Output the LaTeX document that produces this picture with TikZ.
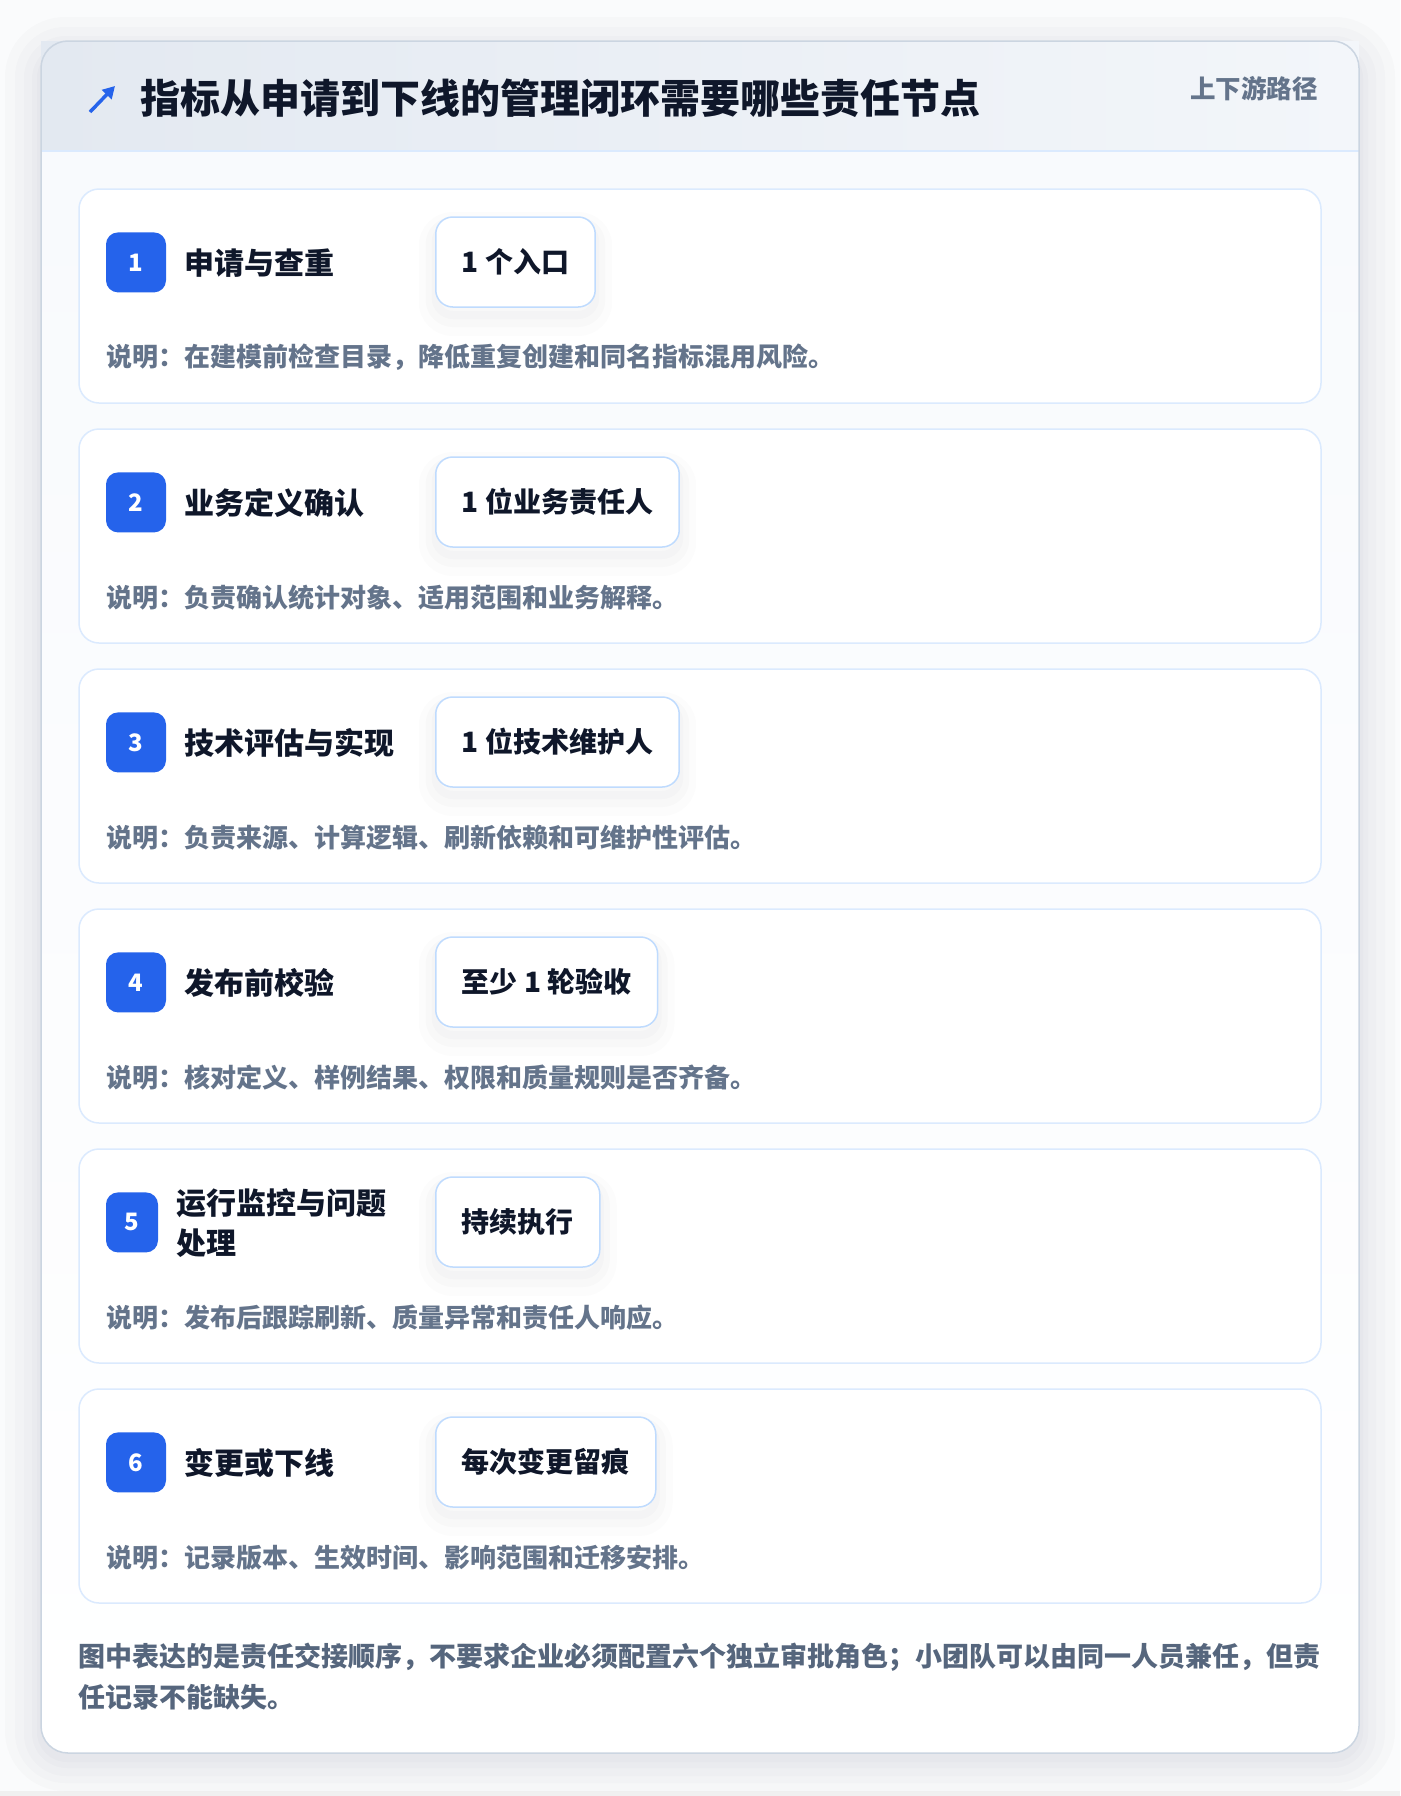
\documentclass[tikz,border=0pt]{standalone}
\usepackage{fontspec}
\setmainfont{Noto Sans CJK SC}
\usetikzlibrary{arrows.meta}

\definecolor{inkdark}{HTML}{0F172A}
\definecolor{inkgray}{HTML}{64748B}
\definecolor{footgray}{HTML}{56667D}
\definecolor{badgeblue}{HTML}{2563EB}
\definecolor{cardline}{HTML}{DBEAFE}
\definecolor{tagline}{HTML}{BFDBFE}
\definecolor{frameline}{HTML}{CBD5E1}
\definecolor{headleft}{HTML}{E3E9F1}
\definecolor{headright}{HTML}{F3F6FA}
\definecolor{pagebg}{HTML}{FAFBFC}
\definecolor{bodytop}{HTML}{F8FAFD}
\definecolor{shadowink}{HTML}{1E293B}

\tikzset{
  stepcard/.style={draw=cardline, line width=1.5pt, fill=white, rounded corners=20pt},
  badge/.style={fill=badgeblue, rounded corners=12pt, minimum width=60pt, minimum height=60pt,
    inner sep=0pt, text=white, font=\fontsize{24}{24}\selectfont\bfseries},
  steptitle/.style={anchor=west, inner sep=0pt, text=inkdark, align=left,
    font=\fontsize{30}{40}\selectfont\bfseries},
  tagbox/.style={anchor=west, draw=tagline, line width=1.5pt, fill=white, rounded corners=17pt,
    minimum height=90pt, inner xsep=26pt, text=inkdark, font=\fontsize{28}{28}\selectfont\bfseries,
    preaction={draw=shadowink, draw opacity=0.012, line width=34pt, transform canvas={yshift=-12pt}},
    preaction={draw=shadowink, draw opacity=0.014, line width=20pt, transform canvas={yshift=-10pt}},
    preaction={draw=shadowink, draw opacity=0.016, line width=8pt, transform canvas={yshift=-8pt}}},
  stepnote/.style={anchor=west, inner sep=0pt, text=inkgray, font=\fontsize{26}{26}\selectfont\bfseries},
  headtitle/.style={anchor=west, inner sep=0pt, text=inkdark, font=\fontsize{40}{40}\selectfont\bfseries},
  headnote/.style={anchor=east, inner sep=0pt, text=inkgray, font=\fontsize{25.5}{25.5}\selectfont\bfseries},
  arrowicon/.style={badgeblue, line width=3.5pt, -{Triangle[length=12pt,width=13pt]}},
  footnote/.style={anchor=base west, inner sep=0pt, text=footgray, align=left,
    font=\fontsize{27}{41.5}\selectfont\bfseries},
  frameshadow/.style={fill=shadowink, fill opacity=0.014},
}

\begin{document}
\begin{tikzpicture}[x=1pt, y=-1pt]
    \useasboundingbox (0,0) rectangle (1400,1796);
    \fill [pagebg] (0,0) rectangle (1400,1796);
    \fill [black!6] (0,1791) rectangle (1400,1796);

    % soft shadow under the frame
    \fill [frameshadow, rounded corners=60pt] (5,17) rectangle (1395,1791);
    \fill [frameshadow, rounded corners=50pt] (15,27) rectangle (1385,1783);
    \fill [frameshadow, rounded corners=42pt] (24,36) rectangle (1376,1776);
    \fill [frameshadow, rounded corners=35pt] (32,44) rectangle (1368,1768);
    \fill [frameshadow, rounded corners=30pt] (37,48) rectangle (1363,1762);

    % outer frame and header
    \fill [white, rounded corners=27pt] (41,41) rectangle (1359,1753);
    \begin{scope}
      \clip [rounded corners=27pt] (41,41) rectangle (1359,1753);
      \shade [top color=bodytop, bottom color=white] (41,151) rectangle (1359,1753);
    \end{scope}
    \shade [left color=headleft, right color=headright] (41,41) rectangle (1359,151);
    \draw [cardline, line width=1.5pt] (41,151) -- (1359,151);
    \draw [frameline, line width=1.5pt, rounded corners=27pt] (41,41) rectangle (1359,1753);

    \coordinate (arrowtail) at (90,112);
    \coordinate (arrowtip) at (115,86);
    \draw [arrowicon] (arrowtail) -- (arrowtip);
    \node [headtitle] (title) at (140,98.5) {指标从申请到下线的管理闭环需要哪些责任节点};
    \node [headnote] (route) at (1318,89) {上下游路径};

    % step cards
    \draw [stepcard] (79,189) rectangle (1321,403);
    \draw [stepcard] (79,429) rectangle (1321,643);
    \draw [stepcard] (79,669) rectangle (1321,883);
    \draw [stepcard] (79,909) rectangle (1321,1123);
    \draw [stepcard] (79,1149) rectangle (1321,1363);
    \draw [stepcard] (79,1389) rectangle (1321,1603);

    \node [badge] (badge1) at (136,262.4) {1};
    \node [steptitle] (name1) at (184.5,263) {申请与查重};
    \node [tagbox] (tag1) at (435,262) {1 个入口};
    \node [stepnote] (note1) at (106.5,357.5) {说明：在建模前检查目录，降低重复创建和同名指标混用风险。};

    \node [badge] (badge2) at (136,502.4) {2};
    \node [steptitle] (name2) at (184.5,503) {业务定义确认};
    \node [tagbox] (tag2) at (435,502) {1 位业务责任人};
    \node [stepnote] (note2) at (106.5,597.5) {说明：负责确认统计对象、适用范围和业务解释。};

    \node [badge] (badge3) at (136,742.4) {3};
    \node [steptitle] (name3) at (184.5,743) {技术评估与实现};
    \node [tagbox] (tag3) at (435,742) {1 位技术维护人};
    \node [stepnote] (note3) at (106.5,837.5) {说明：负责来源、计算逻辑、刷新依赖和可维护性评估。};

    \node [badge] (badge4) at (136,982.4) {4};
    \node [steptitle] (name4) at (184.5,983) {发布前校验};
    \node [tagbox] (tag4) at (435,982) {至少 1 轮验收};
    \node [stepnote] (note4) at (106.5,1077.5) {说明：核对定义、样例结果、权限和质量规则是否齐备。};

    \node [badge, minimum width=52pt] (badge5) at (132,1222.4) {5};
    \node [steptitle] (name5) at (176,1223) {运行监控与问题\\处理};
    \node [tagbox] (tag5) at (435,1222) {持续执行};
    \node [stepnote] (note5) at (106.5,1317.5) {说明：发布后跟踪刷新、质量异常和责任人响应。};

    \node [badge] (badge6) at (136,1462.4) {6};
    \node [steptitle] (name6) at (184.5,1463) {变更或下线};
    \node [tagbox] (tag6) at (435,1462) {每次变更留痕};
    \node [stepnote] (note6) at (106.5,1557.5) {说明：记录版本、生效时间、影响范围和迁移安排。};

    % closing remark (base is the last line)
    \node [footnote] (remark) at (78,1707.5) {图中表达的是责任交接顺序，不要求企业必须配置六个独立审批角色；小团队可以由同一人员兼任，但责\\任记录不能缺失。};
\end{tikzpicture}
\end{document}
